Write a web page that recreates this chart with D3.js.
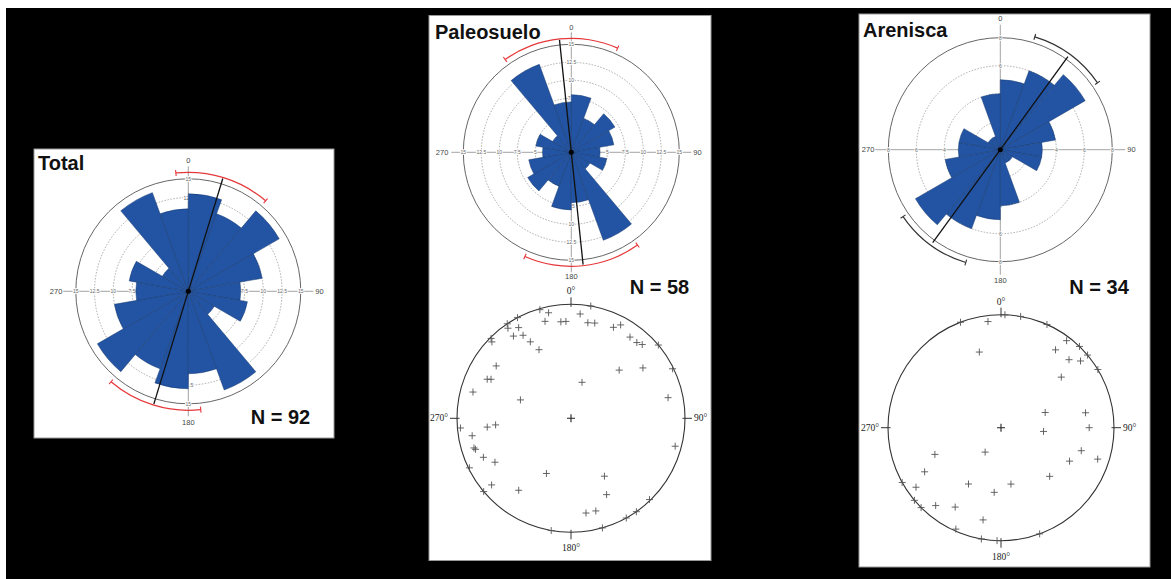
<!DOCTYPE html>
<html>
<head>
<meta charset="utf-8">
<title>Rosas y estereogramas</title>
<script src="https://d3js.org/d3.v7.min.js"></script>
<style>
  body { margin: 0; background: #fff; }
  svg { display: block; }
  .title { font-family: "Liberation Sans", Arial, sans-serif; font-weight: bold; font-size: 20px; fill: #111; }
  .ring { fill: none; stroke: #8a8a8a; stroke-width: 0.7; stroke-dasharray: 1.5,1.5; }
  .outer { fill: none; stroke: #666; stroke-width: 1; }
  .axis { stroke: #8c8c8c; stroke-width: 0.8; }
  .petal { fill: #2254a3; stroke: #17386e; stroke-width: 0.5; }
  .rlab { font-family: "Liberation Sans", sans-serif; font-size: 5px; fill: #666; text-anchor: middle; dominant-baseline: central;
          paint-order: stroke; stroke: #fff; stroke-width: 1.6px; }
  .dirlab { font-family: "Liberation Sans", sans-serif; font-size: 7.5px; fill: #444; dominant-baseline: central; }
  .net { fill: none; stroke: #333; stroke-width: 1.1; }
  .pole { stroke: #555; stroke-width: 0.9; fill: none; }
  .netlab { font-family: "Liberation Serif", serif; font-size: 9.5px; fill: #222; dominant-baseline: central; }
</style>
</head>
<body>
<svg width="1171" height="579"></svg>
<script>
// rose bins (axial data, each bin is plotted again at +180)
const binWidth = 20;
const binStarts = [0, 20, 40, 60, 80, 100, 120, 140, 160];
const totalCounts = [13, 11, 14, 10, 7, 8, 4, 14, 11];   // N = 92
const paleoCounts = [8, 5, 7, 6, 4, 5, 3, 13, 7];        // N = 58
const arenCounts = [5, 6, 7, 4, 3, 3, 1, 1, 4];          // N = 34
const totalRings = [2.5, 5, 7.5, 10, 12.5, 15];
const paleoRings = [2.5, 5, 7.5, 10, 12.5, 15];
const arenRings = [2, 4, 6, 8];

// mean direction and confidence interval (degrees)
const totalMean = 17, totalCI = [-6, 40.5];
const paleoMean = -6, paleoCI = [-35.5, 24];
const arenMean = 36, arenCI = [17, 55.5];

// poles (trend, plunge) for the equal-area nets
const paleoTrend = [344, 348, 10, 5, 345, 354, 357, 10, 14, 25, 28, 36, 41, 44, 50, 45, 55, 64, 78, 17,
  105, 150, 155, 136, 171, 165, 151, 145, 164, 190, 204, 216, 230, 230, 244, 240, 246, 253, 252, 260,
  265, 264, 265, 290, 285, 295, 296, 305, 315, 314, 326, 332, 325, 330, 325, 330, 332, 335];
const paleoPlunge = [1, 6, 0, 9, 13, 16, 16, 16, 15, 13, 8, 13, 13, 11, 0, 40, 24, 1, 14, 63,
  6, 41, 27, 1, 17, 17, 0, 0, 0, 0, 46, 23, 10, 0, 1, 24, 17, 12, 13, 13,
  3, 27, 34, 51, 12, 20, 23, 21, 1, 4, 0, 0, 4, 9, 13, 17, 25, 34];
const arenTrend = [339, 353, 2, 10, 24, 344, 35, 37, 44, 50, 45, 50, 59, 50, 71, 80, 95, 90, 106, 108,
  116, 135, 213, 248, 240, 241, 235, 210, 170, 186, 230, 225, 220, 210, 191, 204, 190, 182, 160];
const arenPlunge = [0, 6, 0, 0, 0, 31, 17, 4, 0, 0, 16, 9, 0, 31, 56, 25, 59, 23, 27, 11,
  33, 39, 69, 37, 23, 0, 9, 42, 48, 42, 0, 0, 11, 20, 18, 2, 0, 0, 0];

const svg = d3.select('svg');
const deg = Math.PI / 180;

svg.append('rect').attr('width', 1171).attr('height', 579).attr('fill', '#fff');
svg.append('rect').attr('x', 6).attr('y', 8).attr('width', 1165).attr('height', 571).attr('fill', '#000');

function panel(x, y, w, h) {
  svg.append('rect').attr('x', x).attr('y', y).attr('width', w).attr('height', h)
    .attr('fill', '#fff').attr('stroke', '#9a9a9a').attr('stroke-width', 1);
}

function label(x, y, txt) {
  svg.append('text').attr('class', 'title').attr('x', x).attr('y', y).text(txt);
}

function rose(cx, cy, o) {
  const g = svg.append('g').attr('transform', `translate(${cx},${cy})`);
  const r = d3.scaleLinear().domain([0, o.max]).range([0, o.radius]);

  g.selectAll('.ring').data(o.rings.filter(v => v < o.max)).enter()
    .append('circle').attr('class', 'ring').attr('r', d => r(d));
  g.append('circle').attr('class', 'outer').attr('r', r(o.max));
  g.append('line').attr('class', 'axis').attr('x1', -o.axis).attr('x2', o.axis);
  g.append('line').attr('class', 'axis').attr('y1', -o.axis).attr('y2', o.axis);

  // ring values along the four axes (hidden under the petals near the centre)
  [[1, 0], [-1, 0], [0, 1], [0, -1]].forEach(([ux, uy]) => {
    g.selectAll(null).data(o.rings).enter().append('text').attr('class', 'rlab')
      .attr('x', d => ux * r(d)).attr('y', d => uy * r(d))
      .attr('fill', o.labColor).text(d => d);
  });

  const L = o.dirLab;
  g.append('text').attr('class', 'dirlab').attr('y', -L[0]).attr('text-anchor', 'middle').attr('fill', o.nsColor).text('0');
  g.append('text').attr('class', 'dirlab').attr('x', L[1]).attr('text-anchor', 'start').text('90');
  g.append('text').attr('class', 'dirlab').attr('y', L[2]).attr('text-anchor', 'middle').attr('fill', o.nsColor).text('180');
  g.append('text').attr('class', 'dirlab').attr('x', -L[3]).attr('text-anchor', 'end').text('270');

  const petals = [];
  binStarts.forEach((b, i) => {
    petals.push({ a: b, n: o.counts[i] });
    petals.push({ a: b + 180, n: o.counts[i] });
  });
  const arc = d3.arc().innerRadius(0);
  g.selectAll('.petal').data(petals).enter().append('path').attr('class', 'petal')
    .attr('d', d => arc({ outerRadius: r(d.n), startAngle: d.a * deg, endAngle: (d.a + binWidth) * deg }));

  // mean direction
  const m = o.mean * deg;
  g.append('line')
    .attr('x1', -o.meanLen * Math.sin(m)).attr('y1', o.meanLen * Math.cos(m))
    .attr('x2', o.meanLen * Math.sin(m)).attr('y2', -o.meanLen * Math.cos(m))
    .attr('stroke', '#111').attr('stroke-width', 1.3);

  // confidence arcs on both ends
  [0, 180].forEach(off => {
    const a0 = (o.ci[0] + off) * deg, a1 = (o.ci[1] + off) * deg;
    g.append('path')
      .attr('d', d3.arc().innerRadius(o.ciR - 0.6).outerRadius(o.ciR + 0.6).startAngle(a0).endAngle(a1)())
      .attr('fill', o.ciColor);
    [a0, a1].forEach(a => {
      g.append('line')
        .attr('x1', (o.ciR - 3) * Math.sin(a)).attr('y1', -(o.ciR - 3) * Math.cos(a))
        .attr('x2', (o.ciR + 3) * Math.sin(a)).attr('y2', -(o.ciR + 3) * Math.cos(a))
        .attr('stroke', o.ciColor).attr('stroke-width', 1.1);
    });
  });

  g.append('circle').attr('r', 2.5).attr('fill', '#000');
}

function net(cx, cy, R, trends, plunges) {
  const g = svg.append('g').attr('transform', `translate(${cx},${cy})`);
  const rs = d3.scaleLinear().domain([0, 1]).range([0, R]);   // Schmidt, lower hemisphere
  g.append('circle').attr('class', 'net').attr('r', R);

  [0, 90, 180, 270].forEach(t => {
    const a = t * deg;
    g.append('line')
      .attr('x1', (R - 2.5) * Math.sin(a)).attr('y1', -(R - 2.5) * Math.cos(a))
      .attr('x2', (R + 7) * Math.sin(a)).attr('y2', -(R + 7) * Math.cos(a))
      .attr('stroke', '#333').attr('stroke-width', 1);
  });
  g.append('text').attr('class', 'netlab').attr('y', -(R + 13)).attr('text-anchor', 'middle').text('0°');
  g.append('text').attr('class', 'netlab').attr('x', R + 9).attr('text-anchor', 'start').text('90°');
  g.append('text').attr('class', 'netlab').attr('y', R + 16).attr('text-anchor', 'middle').text('180°');
  g.append('text').attr('class', 'netlab').attr('x', -(R + 9)).attr('text-anchor', 'end').text('270°');

  g.append('path').attr('d', 'M-4,0h8M0,-4v8').attr('stroke', '#222').attr('stroke-width', 1.1);

  const pts = trends.map((t, i) => {
    const rr = rs(Math.SQRT2 * Math.sin((90 - plunges[i]) * deg / 2));
    return [rr * Math.sin(t * deg), -rr * Math.cos(t * deg)];
  });
  g.selectAll('.pole').data(pts).enter().append('path').attr('class', 'pole')
    .attr('d', d => `M${d[0] - 3.5},${d[1]}h7M${d[0]},${d[1] - 3.5}v7`);
}

// Total
panel(34, 149, 300, 289);
rose(188.3, 291.3, {
  counts: totalCounts, rings: totalRings, max: 15, radius: 112.5, axis: 125,
  dirLab: [131, 127, 131, 126], nsColor: '#4b5e86', labColor: '#666',
  mean: totalMean, meanLen: 118, ci: totalCI, ciR: 119, ciColor: '#e5383b'
});
label(38, 170, 'Total');
label(250.7, 424, 'N = 92');

// Paleosuelo
panel(429, 15.5, 282, 545);
rose(571.3, 152.3, {
  counts: paleoCounts, rings: paleoRings, max: 15, radius: 108, axis: 120,
  dirLab: [125, 122, 124, 123], nsColor: '#666', labColor: '#666',
  mean: paleoMean, meanLen: 113, ci: paleoCI, ciR: 114, ciColor: '#e5383b'
});
label(435, 39, 'Paleosuelo');
net(571, 418.3, 114, paleoTrend, paleoPlunge);
label(629.7, 294, 'N = 58');

// Arenisca
panel(859, 14, 291, 553);
rose(1000.3, 149.7, {
  counts: arenCounts, rings: arenRings, max: 8, radius: 112, axis: 125,
  dirLab: [131, 127, 131, 126], nsColor: '#3d6a9e', labColor: '#5a7aa0',
  mean: arenMean, meanLen: 115, ci: arenCI, ciR: 118, ciColor: '#333'
});
label(863, 37, 'Arenisca');
net(1001, 427.7, 113, arenTrend, arenPlunge);
label(1069.3, 293.7, 'N = 34');
</script>
</body>
</html>
